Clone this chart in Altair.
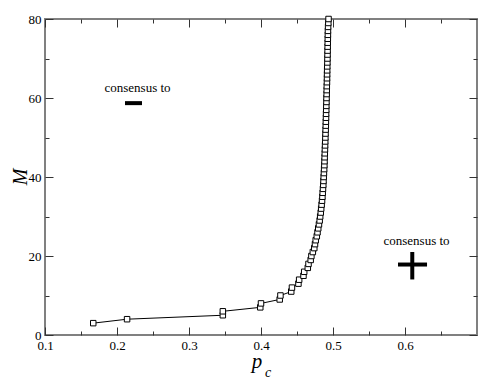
import altair as alt
import pandas as pd

# Critical point p_c versus M
M_vals = list(range(3, 81))
pc_vals = [
    0.167, 0.214, 0.347, 0.347, 0.399, 0.400, 0.426, 0.427, 0.442, 0.443,
    0.452, 0.453, 0.459, 0.460, 0.465, 0.466, 0.469, 0.470, 0.472, 0.474,
    0.475, 0.476, 0.4775, 0.4785, 0.4795, 0.4805, 0.4815, 0.4822, 0.483, 0.4836,
    0.4842, 0.4848, 0.4853, 0.4857, 0.4861, 0.4865, 0.4868, 0.4871, 0.4874, 0.4877,
    0.488, 0.4882, 0.4884, 0.4886, 0.4888, 0.489, 0.4892, 0.4894, 0.4896, 0.4898,
    0.49, 0.4901, 0.4903, 0.4904, 0.4906, 0.4907, 0.4909, 0.491, 0.4912, 0.4913,
    0.4914, 0.4916, 0.4917, 0.4918, 0.4919, 0.492, 0.4922, 0.4923, 0.4924, 0.4925,
    0.4926, 0.4927, 0.4928, 0.4929, 0.493, 0.4932, 0.4935, 0.4938,
]

x_major = [0.1, 0.2, 0.3, 0.4, 0.5, 0.6]
x_minor = [0.15, 0.25, 0.35, 0.45, 0.55, 0.65]
y_major = [0, 20, 40, 60, 80]
y_minor = [10, 30, 50, 70]

# annotations
ann_labels = ["consensus to", "consensus to"]
ann_x = [0.2285, 0.616]
ann_y = [61.6, 22.7]
# horizontal bars: minus sign and plus horizontal stroke
hbar_x = [0.2111, 0.5903]
hbar_x2 = [0.2347, 0.6306]
hbar_y = [58.7, 17.84]
# vertical stroke of plus
vbar_x = [0.6101]
vbar_y = [21.02]
vbar_y2 = [14.06]

W, H = 432, 316
FONT = "Liberation Serif, Times New Roman, DejaVu Serif, serif"

curve = pd.DataFrame({"pc": pc_vals, "M": M_vals})
ann = pd.DataFrame({"x": ann_x, "y": ann_y, "label": ann_labels})
hb = pd.DataFrame({"x": hbar_x, "x2": hbar_x2, "y": hbar_y})
vb = pd.DataFrame({"x": vbar_x, "y": vbar_y, "y2": vbar_y2})

xs = alt.Scale(domain=[0.1, 0.7], nice=False, zero=False)
ys = alt.Scale(domain=[0, 80], nice=False, zero=False)

TICKC = "#333333"


def tick_axis(orient, values, size, offset):
    return alt.Axis(orient=orient, values=values, tickSize=size, offset=offset,
                    labels=False, domain=False, grid=False, title=None,
                    tickColor=TICKC, tickWidth=1)


line = alt.Chart(curve).mark_line(color="black", strokeWidth=1, clip=False).encode(
    x=alt.X("pc:Q", scale=xs, axis=alt.Axis(
        orient="bottom", values=x_major, format=".1f", ticks=False, tickSize=0,
        domain=False, grid=False, title=None, labelFont=FONT, labelFontSize=13,
        labelColor="black", labelPadding=4, labelFlush=False, labelOverlap=False)),
    y=alt.Y("M:Q", scale=ys, axis=alt.Axis(
        orient="left", values=y_major, ticks=False, tickSize=0, domain=False,
        grid=False, title=None, labelFont=FONT, labelFontSize=13, labelColor="black",
        labelPadding=4, labelFlush=False, labelOverlap=False)),
    order="M:Q",
)

points = alt.Chart(curve).mark_point(shape="square", size=30, filled=False,
                                     color="black", fill="white", strokeWidth=1,
                                     opacity=1, clip=False).encode(
    x=alt.X("pc:Q", scale=xs, axis=tick_axis("top", x_major, 8, -H)),
    y=alt.Y("M:Q", scale=ys, axis=tick_axis("right", y_major, 8, -W)),
)

texts = alt.Chart(ann).mark_text(font=FONT, fontSize=13, color="black",
                                 align="center", baseline="alphabetic").encode(
    x=alt.X("x:Q", scale=xs, axis=tick_axis("top", x_minor, 4, -H)),
    y=alt.Y("y:Q", scale=ys, axis=tick_axis("right", y_minor, 4, -W)),
    text="label:N",
)

hbars = alt.Chart(hb).mark_rule(color="black", strokeWidth=4).encode(
    x=alt.X("x:Q", scale=xs, axis=tick_axis("bottom", x_major, 8, -H)),
    x2="x2:Q",
    y=alt.Y("y:Q", scale=ys, axis=tick_axis("left", y_major, 8, -W)),
)

vbars = alt.Chart(vb).mark_rule(color="black", strokeWidth=4).encode(
    x=alt.X("x:Q", scale=xs, axis=tick_axis("bottom", x_minor, 4, -H)),
    y=alt.Y("y:Q", scale=ys, axis=tick_axis("left", y_minor, 4, -W)),
    y2="y2:Q",
)

title_df = pd.DataFrame({"t": ["p"]})
ptitle = alt.Chart(title_df).mark_text(font=FONT, fontSize=21, fontStyle="italic",
                                       color="black", align="center",
                                       baseline="alphabetic").encode(
    x=alt.value(212), y=alt.value(349), text="t:N")
sub_df = pd.DataFrame({"t": ["c"]})
ctitle = alt.Chart(sub_df).mark_text(font=FONT, fontSize=14, fontStyle="italic",
                                     color="black", align="center",
                                     baseline="alphabetic").encode(
    x=alt.value(223), y=alt.value(358), text="t:N")
m_df = pd.DataFrame({"t": ["M"]})
mtitle = alt.Chart(m_df).mark_text(font=FONT, fontSize=20, fontStyle="italic",
                                   color="black", align="center", baseline="middle",
                                   angle=270).encode(
    x=alt.value(-24), y=alt.value(158), text="t:N")

chart = alt.layer(line, points, texts, hbars, vbars, ptitle, ctitle, mtitle).resolve_axis(
    x="independent", y="independent"
).properties(
    width=W, height=H,
    padding={"left": 37, "top": 11, "right": 8, "bottom": 44},
    autosize=alt.AutoSizeParams(type="none"),
).configure_view(stroke="#808080", strokeWidth=2)

chart.save("out.html", embed_options={"renderer": "svg", "actions": False})
